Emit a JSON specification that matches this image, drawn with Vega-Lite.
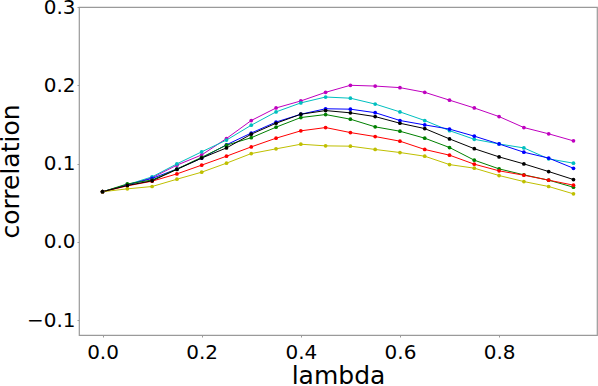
{
  "$schema": "https://vega.github.io/schema/vega-lite/v6.json",
  "width": 518,
  "height": 328,
  "autosize": {"type": "none"},
  "padding": {"left": 79, "top": 7, "right": 1, "bottom": 51},
  "background": "white",
  "config": {
    "font": "DejaVu Sans",
    "view": {"stroke": "#9a9a9a", "strokeWidth": 1.2},
    "axis": {"grid": false, "domain": false, "tickColor": "#9a9a9a", "tickSize": 2, "labelFont": "DejaVu Sans", "titleFont": "DejaVu Sans", "labelFontSize": 20, "titleFontSize": 25, "labelColor": "black", "titleColor": "black", "titleFontWeight": "normal"}
  },
  "datasets": {
    "d": [
      {"lambda":0.0,"s":"m","v":0.064},{"lambda":0.05,"s":"m","v":0.0728},{"lambda":0.1,"s":"m","v":0.082},{"lambda":0.15,"s":"m","v":0.098},{"lambda":0.2,"s":"m","v":0.111},{"lambda":0.25,"s":"m","v":0.132},{"lambda":0.3,"s":"m","v":0.155},{"lambda":0.35,"s":"m","v":0.171},{"lambda":0.4,"s":"m","v":0.18},{"lambda":0.45,"s":"m","v":0.191},{"lambda":0.5,"s":"m","v":0.2},{"lambda":0.55,"s":"m","v":0.199},{"lambda":0.6,"s":"m","v":0.197},{"lambda":0.65,"s":"m","v":0.191},{"lambda":0.7,"s":"m","v":0.181},{"lambda":0.75,"s":"m","v":0.171},{"lambda":0.8,"s":"m","v":0.16},{"lambda":0.85,"s":"m","v":0.146},{"lambda":0.9,"s":"m","v":0.138},{"lambda":0.95,"s":"m","v":0.129},
      {"lambda":0.0,"s":"c","v":0.064},{"lambda":0.05,"s":"c","v":0.073},{"lambda":0.1,"s":"c","v":0.083},{"lambda":0.15,"s":"c","v":0.0996},{"lambda":0.2,"s":"c","v":0.115},{"lambda":0.25,"s":"c","v":0.13},{"lambda":0.3,"s":"c","v":0.149},{"lambda":0.35,"s":"c","v":0.166},{"lambda":0.4,"s":"c","v":0.1775},{"lambda":0.45,"s":"c","v":0.185},{"lambda":0.5,"s":"c","v":0.1835},{"lambda":0.55,"s":"c","v":0.176},{"lambda":0.6,"s":"c","v":0.166},{"lambda":0.65,"s":"c","v":0.155},{"lambda":0.7,"s":"c","v":0.142},{"lambda":0.75,"s":"c","v":0.131},{"lambda":0.8,"s":"c","v":0.125},{"lambda":0.85,"s":"c","v":0.12},{"lambda":0.9,"s":"c","v":0.106},{"lambda":0.95,"s":"c","v":0.1005},
      {"lambda":0.0,"s":"b","v":0.064},{"lambda":0.05,"s":"b","v":0.0728},{"lambda":0.1,"s":"b","v":0.081},{"lambda":0.15,"s":"b","v":0.093},{"lambda":0.2,"s":"b","v":0.107},{"lambda":0.25,"s":"b","v":0.124},{"lambda":0.3,"s":"b","v":0.139},{"lambda":0.35,"s":"b","v":0.153},{"lambda":0.4,"s":"b","v":0.163},{"lambda":0.45,"s":"b","v":0.17},{"lambda":0.5,"s":"b","v":0.1695},{"lambda":0.55,"s":"b","v":0.165},{"lambda":0.6,"s":"b","v":0.155},{"lambda":0.65,"s":"b","v":0.1494},{"lambda":0.7,"s":"b","v":0.144},{"lambda":0.75,"s":"b","v":0.135},{"lambda":0.8,"s":"b","v":0.125},{"lambda":0.85,"s":"b","v":0.1145},{"lambda":0.9,"s":"b","v":0.107},{"lambda":0.95,"s":"b","v":0.094},
      {"lambda":0.0,"s":"g","v":0.064},{"lambda":0.05,"s":"g","v":0.074},{"lambda":0.1,"s":"g","v":0.079},{"lambda":0.15,"s":"g","v":0.093},{"lambda":0.2,"s":"g","v":0.108},{"lambda":0.25,"s":"g","v":0.1235},{"lambda":0.3,"s":"g","v":0.133},{"lambda":0.35,"s":"g","v":0.1465},{"lambda":0.4,"s":"g","v":0.1588},{"lambda":0.45,"s":"g","v":0.1626},{"lambda":0.5,"s":"g","v":0.1567},{"lambda":0.55,"s":"g","v":0.1469},{"lambda":0.6,"s":"g","v":0.1413},{"lambda":0.65,"s":"g","v":0.1324},{"lambda":0.7,"s":"g","v":0.1205},{"lambda":0.75,"s":"g","v":0.1043},{"lambda":0.8,"s":"g","v":0.0932},{"lambda":0.85,"s":"g","v":0.0856},{"lambda":0.9,"s":"g","v":0.0788},{"lambda":0.95,"s":"g","v":0.0698},
      {"lambda":0.0,"s":"r","v":0.064},{"lambda":0.05,"s":"r","v":0.0715},{"lambda":0.1,"s":"r","v":0.0775},{"lambda":0.15,"s":"r","v":0.0868},{"lambda":0.2,"s":"r","v":0.098},{"lambda":0.25,"s":"r","v":0.1094},{"lambda":0.3,"s":"r","v":0.1213},{"lambda":0.35,"s":"r","v":0.1324},{"lambda":0.4,"s":"r","v":0.1418},{"lambda":0.45,"s":"r","v":0.146},{"lambda":0.5,"s":"r","v":0.1396},{"lambda":0.55,"s":"r","v":0.1345},{"lambda":0.6,"s":"r","v":0.1286},{"lambda":0.65,"s":"r","v":0.118},{"lambda":0.7,"s":"r","v":0.1107},{"lambda":0.75,"s":"r","v":0.0992},{"lambda":0.8,"s":"r","v":0.0907},{"lambda":0.85,"s":"r","v":0.0851},{"lambda":0.9,"s":"r","v":0.0788},{"lambda":0.95,"s":"r","v":0.0724},
      {"lambda":0.0,"s":"y","v":0.064},{"lambda":0.05,"s":"y","v":0.0677},{"lambda":0.1,"s":"y","v":0.0707},{"lambda":0.15,"s":"y","v":0.08},{"lambda":0.2,"s":"y","v":0.089},{"lambda":0.25,"s":"y","v":0.1005},{"lambda":0.3,"s":"y","v":0.1128},{"lambda":0.35,"s":"y","v":0.1188},{"lambda":0.4,"s":"y","v":0.1247},{"lambda":0.45,"s":"y","v":0.1226},{"lambda":0.5,"s":"y","v":0.1222},{"lambda":0.55,"s":"y","v":0.118},{"lambda":0.6,"s":"y","v":0.1141},{"lambda":0.65,"s":"y","v":0.1094},{"lambda":0.7,"s":"y","v":0.0987},{"lambda":0.75,"s":"y","v":0.0941},{"lambda":0.8,"s":"y","v":0.0847},{"lambda":0.85,"s":"y","v":0.077},{"lambda":0.9,"s":"y","v":0.0707},{"lambda":0.95,"s":"y","v":0.0613},
      {"lambda":0.0,"s":"k","v":0.064},{"lambda":0.05,"s":"k","v":0.072},{"lambda":0.1,"s":"k","v":0.078},{"lambda":0.15,"s":"k","v":0.0925},{"lambda":0.2,"s":"k","v":0.107},{"lambda":0.25,"s":"k","v":0.12},{"lambda":0.3,"s":"k","v":0.1375},{"lambda":0.35,"s":"k","v":0.1515},{"lambda":0.4,"s":"k","v":0.163},{"lambda":0.45,"s":"k","v":0.1677},{"lambda":0.5,"s":"k","v":0.1648},{"lambda":0.55,"s":"k","v":0.16},{"lambda":0.6,"s":"k","v":0.1515},{"lambda":0.65,"s":"k","v":0.1447},{"lambda":0.7,"s":"k","v":0.1315},{"lambda":0.75,"s":"k","v":0.119},{"lambda":0.8,"s":"k","v":0.1085},{"lambda":0.85,"s":"k","v":0.0996},{"lambda":0.9,"s":"k","v":0.0898},{"lambda":0.95,"s":"k","v":0.0796}
    ]
  },
  "data": {"name": "d"},
  "encoding": {
    "x": {"field": "lambda", "type": "quantitative",
      "scale": {"domain": [-0.0475, 0.9975], "nice": false, "zero": false},
      "axis": {"values": [0, 0.2, 0.4, 0.6, 0.8], "format": ".1f", "title": "lambda", "labelPadding": 5, "titleY": 48, "titleBaseline": "alphabetic"}},
    "y": {"field": "v", "type": "quantitative",
      "scale": {"domain": [-0.119, 0.3], "nice": false, "zero": false},
      "axis": {"values": [-0.1, 0, 0.1, 0.2, 0.3], "format": ".1f", "title": "correlation", "labelPadding": 2, "titleX": -69, "titleY": 164, "titleAngle": -90, "titleAlign": "center", "titleBaseline": "middle"}},
    "color": {"field": "s", "type": "nominal", "legend": null,
      "scale": {"domain": ["m", "c", "b", "g", "r", "y", "k"], "range": ["#bf00bf", "#00bfbf", "#0000ff", "#008000", "#ff0000", "#bfbf00", "#000000"]}},
    "order": {"field": "lambda", "type": "quantitative"}
  },
  "layer": [
    {"mark": {"type": "line", "strokeWidth": 1, "clip": true}},
    {"mark": {"type": "point", "filled": true, "size": 14, "opacity": 1, "clip": true}}
  ]
}
